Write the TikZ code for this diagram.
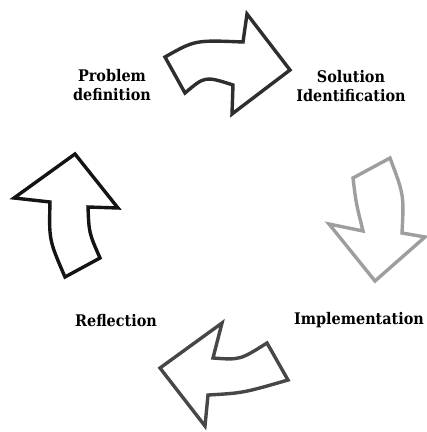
\documentclass[tikz,border=0pt]{standalone}
\usepackage{fontspec}
\setmainfont{DejaVu Serif}
\newfontfamily\steplabelfont{DejaVu Serif}[FakeStretch=0.9]
\begin{document}
\begin{tikzpicture}[x=1pt,y=-1pt,
  cyclearrow/.style={line width=3.4pt, line join=miter, fill=white},
  steplabel/.style={font=\steplabelfont\fontsize{16}{19.5}\selectfont\bfseries, align=center, inner sep=0pt}]
\useasboundingbox (0,0) rectangle (427,432);

% arrow from problem definition to solution identification
\draw[cyclearrow, draw=black!82]
  (165,57) .. controls (195,40) .. (243,42) -- (247,14) -- (290,70)
  -- (232,114) -- (233,85) .. controls (205,76) .. (185,93) -- cycle;

% arrow from solution identification to implementation
\draw[cyclearrow, draw=black!38]
  (390,158) -- (353,178) .. controls (356,203) .. (363,231) -- (329,224)
  -- (375,281) -- (425,237) -- (402,233) .. controls (404,195) .. cycle;

% arrow from implementation to reflection
\draw[cyclearrow, draw=black!72]
  (222,323) -- (213,358) .. controls (240,360) .. (267,343) -- (288,380)
  .. controls (243,393) .. (208,395) -- (205,426) -- (160,368) -- cycle;

% arrow from reflection back to problem definition
\draw[cyclearrow, draw=black!92]
  (75,154) -- (14,198) -- (50,202) .. controls (49,240) .. (65,277)
  -- (100,258) .. controls (89,233) .. (88,207) -- (118,208) -- cycle;

% step labels
\node[steplabel] (problem)  at (112,85)  {Problem\\definition};
\node[steplabel] (solution) at (351,86)  {Solution\\Identification};
\node[steplabel] (reflect)  at (116,321) {Reflection};
\node[steplabel, anchor=west] (implement) at (294,320) {Implementation};
\end{tikzpicture}
\end{document}
